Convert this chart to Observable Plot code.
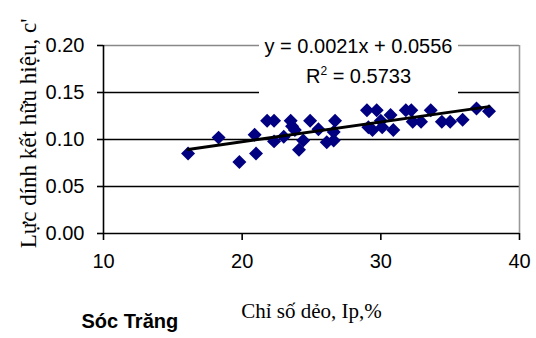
<!DOCTYPE html>
<html><head><meta charset="utf-8">
<script src="https://cdn.jsdelivr.net/npm/d3@7"></script>
<script src="https://cdn.jsdelivr.net/npm/@observablehq/plot@0.6"></script>
<style>
body{margin:0;background:#fff;}
#wrap{position:relative;width:536px;height:338px;overflow:hidden;background:#fff;}
#eq{position:absolute;left:259px;top:31px;width:199px;height:64px;background:#fff;font-family:Arial,"Liberation Sans",sans-serif;font-size:20px;text-align:center;line-height:30px;color:#000;}
#eq .sup{font-size:12px;position:relative;top:-8px;}
</style></head><body><div id="wrap"></div>
<script>
// Plasticity index Ip (%) and effective cohesion c'
const ip = [16.1, 18.3, 19.8, 21.0, 20.9, 21.8, 22.3, 22.3, 23.0, 23.5, 23.6, 23.8, 24.1, 24.4, 24.9, 25.5, 26.1, 26.6, 26.7, 26.6,
            29.0, 29.1, 29.7, 29.4, 30.1, 30.9, 30.7, 30.0, 31.8, 32.3, 32.9, 32.2, 33.6, 34.4, 35.0, 35.9, 36.9, 37.8];
const cPrime = [0.085, 0.102, 0.076, 0.085, 0.105, 0.120, 0.120, 0.098, 0.103, 0.120, 0.114, 0.110, 0.089, 0.099, 0.120, 0.111, 0.097, 0.099, 0.120, 0.108,
                0.131, 0.113, 0.131, 0.110, 0.113, 0.110, 0.126, 0.120, 0.131, 0.119, 0.119, 0.131, 0.131, 0.119, 0.119, 0.121, 0.133, 0.130];
const slope = 0.0021, intercept = 0.0556, r2 = 0.5733;
const xTicks = [10, 20, 30, 40];
const yTicks = [0, 0.05, 0.10, 0.15, 0.20];
const innerGrid = [0.05, 0.10, 0.15];
const xTitle = "Chỉ số dẻo, Ip,%";
const yTitle = "Lực dính kết hữu hiệu, c'";
const region = "Sóc Trăng";

const pts = ip.map((x, i) => ({x, y: cPrime[i]}));
const [xmin, xmax] = d3.extent(ip);
const trend = [xmin, xmax].map(x => ({x, y: slope * x + intercept}));

const font = "Arial, 'Liberation Sans', sans-serif";
const serif = "'Times New Roman', 'Liberation Serif', serif";

const chart = Plot.plot({
  width: 536, height: 338,
  marginLeft: 103, marginRight: 17, marginTop: 45, marginBottom: 105,
  style: {fontFamily: font, fontSize: "20px", background: "#fff", color: "#000", overflow: "visible"},
  x: {domain: [10, 40], ticks: xTicks},
  y: {domain: [0, 0.2], ticks: yTicks},
  marks: [
    Plot.ruleY(innerGrid, {stroke: "#000", strokeWidth: 1.6}),
    Plot.ruleY([0.2], {stroke: "#888", strokeWidth: 1.6}),
    Plot.ruleX([40], {stroke: "#999", strokeWidth: 1.6}),
    Plot.ruleY([0], {stroke: "#000", strokeWidth: 1.6}),
    Plot.ruleX([10], {stroke: "#000", strokeWidth: 1.6}),
    Plot.axisX({ticks: xTicks, tickSize: 7, tickPadding: 13, tickFormat: d3.format("d"), label: null, fontSize: 20, strokeWidth: 1.6}),
    Plot.axisY({ticks: yTicks, tickSize: 6, tickPadding: 13, tickFormat: d3.format(".2f"), label: null, fontSize: 20, strokeWidth: 1.6}),
    Plot.dot(pts, {x: "x", y: "y", symbol: "diamond2", r: 6.3, fill: "#000080", stroke: "none"}),
    Plot.line(trend, {x: "x", y: "y", stroke: "#000", strokeWidth: 3}),
    Plot.text([xTitle], {frameAnchor: "bottom", dy: 78, fontFamily: serif, fontSize: 21, lineAnchor: "middle"}),
    Plot.text([yTitle], {frameAnchor: "left", dx: -75, dy: -6, rotate: -90, fontFamily: serif, fontSize: 23, lineAnchor: "middle", textAnchor: "middle"}),
    Plot.text([region], {frameAnchor: "bottom-left", dx: -22, dy: 88, textAnchor: "start", lineAnchor: "middle", fontWeight: "bold", fontSize: 20})
  ]
});
const wrap = document.getElementById("wrap");
wrap.appendChild(chart);
const eq = document.createElement("div");
eq.id = "eq";
eq.innerHTML = `<div>y = ${slope.toFixed(4)}x + ${intercept.toFixed(4)}</div><div>R<span class="sup">2</span> = ${r2.toFixed(4)}</div>`;
wrap.appendChild(eq);
</script>
</body></html>
